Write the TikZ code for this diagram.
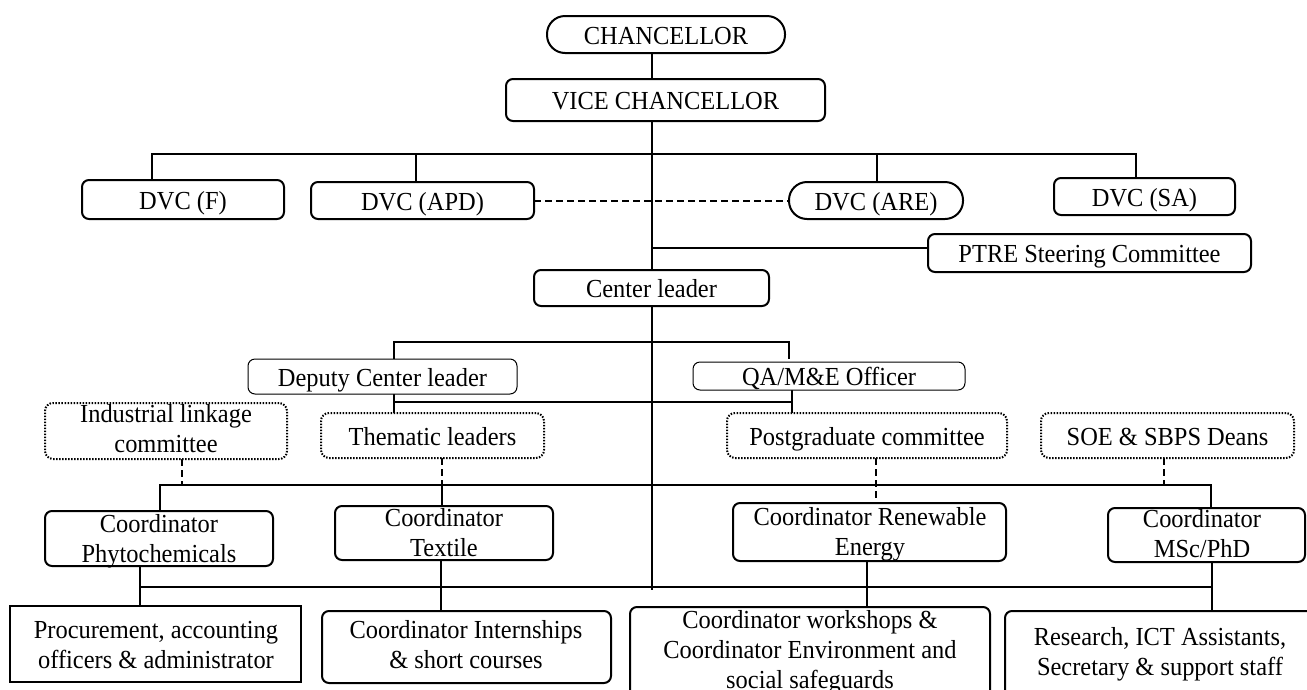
\documentclass[tikz,border=0pt]{standalone}
\usepackage{fontspec}
\setmainfont{Liberation Serif}[FakeStretch=0.94]
\pgfdeclarelayer{bg}
\pgfsetlayers{bg,main}
\newcommand\mkbox[7]{\node[#1, minimum width={#5pt-#3pt}, minimum height={#6pt-#4pt}] (#2) at ({(#3+#5)/2},{(#4+#6)/2}) {#7};}
\begin{document}
\begin{tikzpicture}[x=1pt,y=-1pt,
  every node/.style={inner sep=0pt, outer sep=0pt, font=\fontsize{26}{30}\selectfont, align=center},
  onel/.style={text height=19pt, text depth=0pt},
  box/.style={draw, fill=white, line width=2pt, rounded corners=7pt, onel},
  pill/.style={draw, fill=white, line width=2pt, rounded corners=18pt, onel},
  thinbox/.style={draw, fill=white, line width=1pt, rounded corners=7pt, onel},
  dotbox/.style={draw, fill=white, line width=2pt, dash pattern=on 1.5pt off 1.5pt, rounded corners=8pt, onel},
  sqbox/.style={draw, fill=white, line width=2.6pt, onel},
  conn/.style={line width=2pt},
  dconn/.style={line width=2pt, dash pattern=on 7pt off 4pt},
]
\useasboundingbox (0,0) rectangle (1307,689);
\clip (0,0) rectangle (1307,689);

% boxes
\mkbox{pill}{chan}{547}{16}{785}{53}{CHANCELLOR}
\mkbox{box}{vc}{506}{79}{825}{121}{VICE CHANCELLOR}
\mkbox{box}{dvcf}{82}{180}{284}{219}{DVC (F)}
\mkbox{box}{dvcapd}{311}{182}{534}{219}{DVC (APD)}
\mkbox{pill}{dvcare}{789}{182}{963}{219}{DVC (ARE)}
\mkbox{box}{dvcsa}{1054}{178}{1235}{215}{DVC (SA)}
\mkbox{box}{ptre}{928}{234}{1251}{272}{PTRE Steering Committee}
\mkbox{box}{cl}{534}{270}{769}{306}{Center leader}
\mkbox{thinbox}{dcl}{248}{359}{517}{394}{Deputy Center leader}
\mkbox{thinbox}{qa}{693}{362}{965}{390}{QA/M\&E Officer}
\mkbox{dotbox}{ilc}{45}{403}{287}{459}{}
\mkbox{dotbox}{thm}{321}{413}{544}{458}{Thematic leaders}
\mkbox{dotbox}{pg}{727}{413}{1007}{458}{Postgraduate committee}
\mkbox{dotbox}{soe}{1041}{413}{1294}{458}{SOE \& SBPS Deans}
\mkbox{box}{phy}{45}{511}{273}{566}{}
\mkbox{box}{tex}{335}{506}{553}{560}{}
\mkbox{box}{ren}{733}{503}{1006}{561}{}
\mkbox{box}{msc}{1108}{508}{1305}{562}{}
\mkbox{sqbox}{proc}{10}{606}{301}{682}{}
\mkbox{box}{int}{322}{611}{611}{683}{}
\mkbox{box}{ws}{630}{607}{990}{720}{}
\mkbox{box}{res}{1005}{611}{1330}{720}{}

% multi-line texts
\node (t-ilc) at (166,429) {Industrial linkage\\committee};
\node (t-phy) at (159,541) {Coordinator\\Phytochemicals};
\node (t-tex) at (444,533) {Coordinator\\Textile};
\node (t-ren) at (870,534) {Coordinator Renewable\\Energy};
\node (t-msc) at (1202,534) {Coordinator\\MSc/PhD};
\node (t-proc) at (156,645) {Procurement, accounting\\officers \& administrator};
\node (t-int) at (466,645) {Coordinator Internships\\\& short courses};
\node (t-ws) at (810,652) {Coordinator workshops \&\\Coordinator Environment and\\social safeguards};
\node (t-res) at (1160,654) {Research, ICT Assistants,\\Secretary \& support staff};

% connectors
\begin{pgfonlayer}{bg}
\coordinate (spineEnd) at (652,590);
\draw[conn] (spineEnd |- chan.south) -- (spineEnd);

\coordinate (bL) at (152,154);
\coordinate (bR) at (1136,154);
\coordinate (jAPD) at (416,154);
\coordinate (jARE) at (877,154);
\draw[conn] (bL |- dvcf.north) -- (bL) -- (bR) -- (bR |- dvcsa.north);
\draw[conn] (jAPD) -- (jAPD |- dvcapd.north);
\draw[conn] (jARE) -- (jARE |- dvcare.north);
\draw[dconn] (dvcapd.east) -- (dvcare.west);

\coordinate (jPT) at (652,248);
\draw[conn] (jPT) -- (jPT -| ptre.west);

\coordinate (d1) at (394,342);
\coordinate (d2) at (789,342);
\coordinate (d2b) at (789,359);
\draw[conn] (d1 |- dcl.north) -- (d1) -- (d2) -- (d2b);

\coordinate (e1) at (394,402);
\coordinate (e2) at (792,402);
\draw[conn] (e1 |- dcl.south) -- (e1 |- thm.north);
\draw[conn] (e1) -- (e2);
\draw[conn] (e2 |- qa.south) -- (e2 |- pg.north);

\coordinate (f1) at (160,485);
\coordinate (f2) at (1211,485);
\draw[conn] (f1 |- phy.north) -- (f1) -- (f2) -- (f2 |- msc.north);
\coordinate (g1) at (182,485);
\coordinate (g2) at (442,485);
\coordinate (g3) at (876,485);
\coordinate (g4) at (1164,485);
\draw[dconn] (g1 |- ilc.south) -- (g1);
\draw[dconn] (g2 |- thm.south) -- (g2);
\draw[conn] (g2) -- (g2 |- tex.north);
\draw[dconn] (g3 |- pg.south) -- (g3 |- ren.north);
\draw[dconn] (g4 |- soe.south) -- (g4);

\coordinate (h1) at (140,587);
\coordinate (h2) at (1212,587);
\coordinate (h3) at (441,587);
\coordinate (h4) at (867,587);
\draw[conn] (h1 |- phy.south) -- (h1 |- proc.north);
\draw[conn] (h1) -- (h2);
\draw[conn] (h2 |- msc.south) -- (h2 |- res.north);
\draw[conn] (h3 |- tex.south) -- (h3 |- int.north);
\draw[conn] (h4 |- ren.south) -- (h4 |- ws.north);
\end{pgfonlayer}
\end{tikzpicture}
\end{document}
